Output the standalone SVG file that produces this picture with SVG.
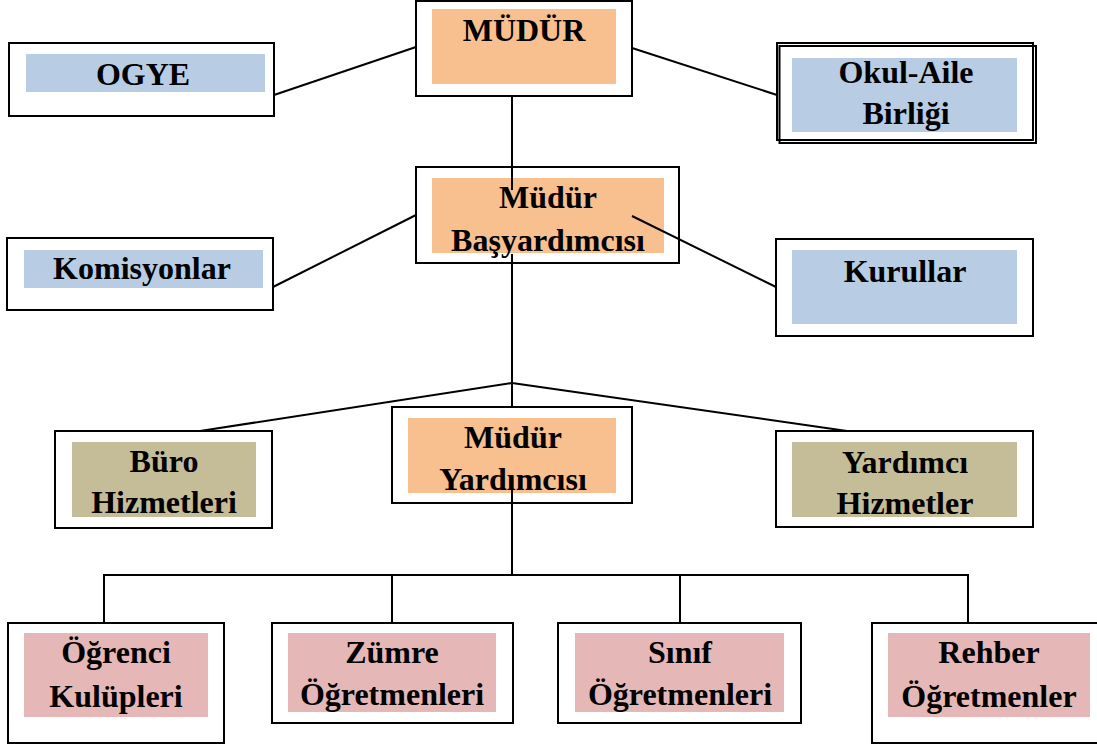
<svg xmlns="http://www.w3.org/2000/svg" width="1097" height="749" viewBox="0 0 1097 749">
<style>
.box{fill:#ffffff;stroke:#000;stroke-width:2}
.frame{fill:none;stroke:#000;stroke-width:2}
.or{fill:#F8BF8F}
.bl{fill:#B8CCE4}
.kh{fill:#C4BD97}
.pk{fill:#E5B8B7}
text{font-family:"Liberation Serif","Times New Roman",serif;font-weight:bold;font-size:32px;fill:#000;text-anchor:middle}
.conn line{stroke:#000;stroke-width:2;fill:none}
</style>
<rect width="1097" height="749" fill="#ffffff"/>
<g id="mudur">
<rect class="box" x="416" y="1" width="216" height="95"/>
<rect class="or" x="432" y="9" width="184" height="75"/>
<text x="524" y="41">MÜDÜR</text>
</g>
<g id="ogye">
<rect class="box" x="9" y="43" width="265" height="73"/>
<rect class="bl" x="26" y="54" width="239" height="38"/>
<text x="143" y="85">OGYE</text>
</g>
<g id="okul-aile">
<rect class="box" x="777" y="43" width="256" height="97"/>
<rect class="frame" x="779.5" y="46" width="256.5" height="97"/>
<rect class="bl" x="792" y="58" width="225" height="74"/>
<text x="906" y="83">Okul-Aile</text>
<text x="906" y="124">Birliği</text>
</g>
<g id="basyardimci">
<rect class="box" x="416" y="167" width="263" height="96"/>
<rect class="or" x="432" y="178" width="232" height="75"/>
<text x="548" y="208">Müdür</text>
<text x="548" y="251">Başyardımcısı</text>
</g>
<g id="komisyonlar">
<rect class="box" x="7" y="238" width="266" height="72"/>
<rect class="bl" x="24" y="250" width="239" height="38"/>
<text x="142" y="279">Komisyonlar</text>
</g>
<g id="kurullar">
<rect class="box" x="776" y="239" width="257" height="97"/>
<rect class="bl" x="792" y="250" width="225" height="74"/>
<text x="905" y="282">Kurullar</text>
</g>
<g id="buro">
<rect class="box" x="55" y="431" width="217" height="97"/>
<rect class="kh" x="72" y="442" width="184" height="75"/>
<text x="164" y="472">Büro</text>
<text x="164" y="513">Hizmetleri</text>
</g>
<g id="mudur-yardimcisi">
<rect class="box" x="392" y="407" width="240" height="96"/>
<rect class="or" x="408" y="418" width="208" height="75"/>
<text x="513" y="448">Müdür</text>
<text x="513" y="490">Yardımcısı</text>
</g>
<g id="yardimci-hizmetler">
<rect class="box" x="776" y="431" width="257" height="96"/>
<rect class="kh" x="792" y="442" width="225" height="75"/>
<text x="905" y="473">Yardımcı</text>
<text x="905" y="514">Hizmetler</text>
</g>
<g id="ogrenci">
<rect class="box" x="8" y="623" width="216" height="120"/>
<rect class="pk" x="24" y="633" width="184" height="84"/>
<text x="116" y="663">Öğrenci</text>
<text x="116" y="707">Kulüpleri</text>
</g>
<g id="zumre">
<rect class="box" x="272" y="623" width="241" height="100"/>
<rect class="pk" x="288" y="633" width="208" height="79"/>
<text x="392" y="663">Zümre</text>
<text x="392" y="705">Öğretmenleri</text>
</g>
<g id="sinif">
<rect class="box" x="558" y="623" width="243" height="100"/>
<rect class="pk" x="575" y="633" width="209" height="79"/>
<text x="680" y="663">Sınıf</text>
<text x="680" y="705">Öğretmenleri</text>
</g>
<g id="rehber">
<rect class="box" x="872" y="623" width="234" height="120"/>
<rect class="pk" x="888" y="633" width="202" height="84"/>
<text x="989" y="663">Rehber</text>
<text x="989" y="707">Öğretmenler</text>
</g>
<g class="conn" id="connectors">
<line x1="416" y1="47" x2="274" y2="95"/>
<line x1="632" y1="48" x2="777" y2="95"/>
<line x1="512" y1="96" x2="512" y2="190"/>
<line x1="416" y1="215" x2="273" y2="287"/>
<line x1="632" y1="216" x2="776" y2="287"/>
<line x1="512" y1="254" x2="512" y2="407"/>
<line x1="512" y1="383" x2="200" y2="431"/>
<line x1="512" y1="383" x2="847" y2="431"/>
<line x1="512" y1="488" x2="512" y2="575"/>
<line x1="103" y1="575" x2="969" y2="575"/>
<line x1="104" y1="575" x2="104" y2="623"/>
<line x1="392" y1="575" x2="392" y2="623"/>
<line x1="680" y1="575" x2="680" y2="623"/>
<line x1="968" y1="575" x2="968" y2="623"/>
</g>
</svg>
